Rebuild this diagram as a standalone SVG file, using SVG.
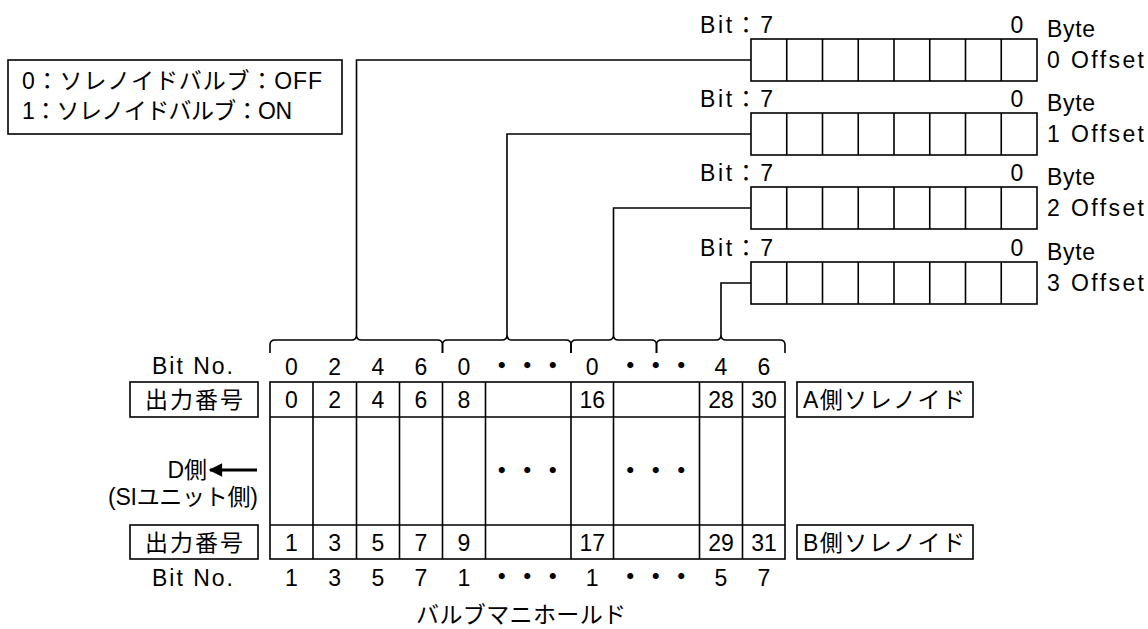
<svg xmlns="http://www.w3.org/2000/svg" width="1148" height="629" viewBox="0 0 1148 629">
<defs>
<style>
.ln{stroke:#000;stroke-width:1.6;fill:none}
.t{font-family:"Liberation Sans Narrow","Liberation Sans","Noto Sans CJK JP",sans-serif;font-size:23px;fill:#000}
.j{font-family:"Noto Sans CJK JP",sans-serif;font-size:23px;fill:#000}
.m{text-anchor:middle}
.e{text-anchor:end}
.d{font-family:"Noto Sans CJK JP",sans-serif;font-size:24px;font-weight:bold;text-anchor:middle;letter-spacing:1.5px}
</style>
<marker id="ah" viewBox="0 0 10 10" refX="9" refY="5" markerWidth="5" markerHeight="4.5" orient="auto" markerUnits="strokeWidth">
<path d="M0,0 L10,5 L0,10 Z" fill="#000"/>
</marker>
</defs>
<rect width="1148" height="629" fill="#fff"/>

<g id="legend">
<rect class="ln" x="8" y="60" width="334" height="74"/>
<text class="t" x="22" y="89" textLength="300" lengthAdjust="spacing">0：ソレノイドバルブ：OFF</text>
<text class="t" x="22" y="119" textLength="270" lengthAdjust="spacing">1：ソレノイドバルブ：ON</text>
</g>

<g id="byte0">
<text class="t" x="700" y="33" textLength="73" lengthAdjust="spacing">Bit：7</text>
<text class="t m" x="1017" y="33">0</text>
<text class="t" x="1047" y="37" textLength="48" lengthAdjust="spacing">Byte</text>
<text class="t" x="1047" y="68" textLength="97" lengthAdjust="spacing">0 Offset</text>
<rect class="ln" x="751" y="39" width="286" height="42"/>
<path class="ln" d="M786.75,39V81M822.5,39V81M858.25,39V81M894,39V81M929.75,39V81M965.5,39V81M1001.25,39V81"/>
</g>
<g id="byte1">
<text class="t" x="700" y="107" textLength="73" lengthAdjust="spacing">Bit：7</text>
<text class="t m" x="1017" y="107">0</text>
<text class="t" x="1047" y="111" textLength="48" lengthAdjust="spacing">Byte</text>
<text class="t" x="1047" y="142" textLength="97" lengthAdjust="spacing">1 Offset</text>
<rect class="ln" x="751" y="113" width="286" height="42"/>
<path class="ln" d="M786.75,113V155M822.5,113V155M858.25,113V155M894,113V155M929.75,113V155M965.5,113V155M1001.25,113V155"/>
</g>
<g id="byte2">
<text class="t" x="700" y="181" textLength="73" lengthAdjust="spacing">Bit：7</text>
<text class="t m" x="1017" y="181">0</text>
<text class="t" x="1047" y="185" textLength="48" lengthAdjust="spacing">Byte</text>
<text class="t" x="1047" y="216" textLength="97" lengthAdjust="spacing">2 Offset</text>
<rect class="ln" x="751" y="187" width="286" height="42"/>
<path class="ln" d="M786.75,187V229M822.5,187V229M858.25,187V229M894,187V229M929.75,187V229M965.5,187V229M1001.25,187V229"/>
</g>
<g id="byte3">
<text class="t" x="700" y="256" textLength="73" lengthAdjust="spacing">Bit：7</text>
<text class="t m" x="1017" y="256">0</text>
<text class="t" x="1047" y="260" textLength="48" lengthAdjust="spacing">Byte</text>
<text class="t" x="1047" y="291" textLength="97" lengthAdjust="spacing">3 Offset</text>
<rect class="ln" x="751" y="262" width="286" height="42"/>
<path class="ln" d="M786.75,262V304M822.5,262V304M858.25,262V304M894,262V304M929.75,262V304M965.5,262V304M1001.25,262V304"/>
</g>

<g id="connectors">
<path class="ln" d="M751,60H356.5V335"/>
<path class="ln" d="M751,134H507V335"/>
<path class="ln" d="M751,208H613.5V335"/>
<path class="ln" d="M751,283H721V335"/>
<path class="ln" d="M270,353V345Q270,340 275,340H351.5Q356.5,340 356.5,335Q356.5,340 361.5,340H437.5Q442.5,340 442.5,345V353"/>
<path class="ln" d="M442.5,353V345Q442.5,340 447.5,340H502Q507,340 507,335Q507,340 512,340H566Q571,340 571,345V353"/>
<path class="ln" d="M571,353V345Q571,340 576,340H608.5Q613.5,340 613.5,335Q613.5,340 618.5,340H651.5Q656.5,340 656.5,345V353"/>
<path class="ln" d="M656.5,353V345Q656.5,340 661.5,340H716Q721,340 721,335Q721,340 726,340H780Q785,340 785,345V353"/>
<path d="M257,470H210" stroke="#000" stroke-width="3" fill="none" marker-end="url(#ah)"/>
</g>

<g id="bitno-top">
<text class="t" x="152" y="374" textLength="81" lengthAdjust="spacing">Bit No.</text>
<text class="t m" x="291.5" y="375">0</text>
<text class="t m" x="334.75" y="375">2</text>
<text class="t m" x="378" y="375">4</text>
<text class="t m" x="421" y="375">6</text>
<text class="t m" x="464" y="375">0</text>
<text class="d" x="528" y="374">・・・</text>
<text class="t m" x="592.25" y="375">0</text>
<text class="d" x="656.5" y="374">・・・</text>
<text class="t m" x="721" y="375">4</text>
<text class="t m" x="764" y="375">6</text>
</g>

<g id="label-a-left">
<rect class="ln" x="130" y="382" width="128" height="35"/>
<text class="j m" x="194" y="408" textLength="98" lengthAdjust="spacing">出力番号</text>
</g>
<g id="label-b-left">
<rect class="ln" x="130" y="525" width="128" height="34"/>
<text class="j m" x="194" y="551" textLength="98" lengthAdjust="spacing">出力番号</text>
</g>

<g id="manifold">
<rect class="ln" x="270" y="382" width="515" height="177"/>
<path class="ln" d="M270,417H785M270,525H785"/>
<path class="ln" d="M313,382V559M356.5,382V559M399.5,382V559M442.5,382V559M485.5,382V559M571,382V559M613.5,382V559M699.5,382V559M742.5,382V559"/>
<text class="t m" x="291.5" y="408">0</text>
<text class="t m" x="334.75" y="408">2</text>
<text class="t m" x="378" y="408">4</text>
<text class="t m" x="421" y="408">6</text>
<text class="t m" x="464" y="408">8</text>
<text class="t m" x="592.25" y="408">16</text>
<text class="t m" x="721" y="408">28</text>
<text class="t m" x="764" y="408">30</text>
<text class="d" x="528" y="479">・・・</text>
<text class="d" x="656.5" y="479">・・・</text>
<text class="t m" x="291.5" y="551">1</text>
<text class="t m" x="334.75" y="551">3</text>
<text class="t m" x="378" y="551">5</text>
<text class="t m" x="421" y="551">7</text>
<text class="t m" x="464" y="551">9</text>
<text class="t m" x="592.25" y="551">17</text>
<text class="t m" x="721" y="551">29</text>
<text class="t m" x="764" y="551">31</text>
<text class="j m" x="521" y="623" textLength="210" lengthAdjust="spacing">バルブマニホールド</text>
</g>

<g id="label-a-right">
<rect class="ln" x="797" y="382" width="176" height="35"/>
<text class="t" x="803" y="408" textLength="162" lengthAdjust="spacing">A側ソレノイド</text>
</g>
<g id="label-b-right">
<rect class="ln" x="797" y="525" width="176" height="34"/>
<text class="t" x="803" y="551" textLength="162" lengthAdjust="spacing">B側ソレノイド</text>
</g>

<g id="side-label">
<text class="t e" x="207" y="478">D側</text>
<text class="t e" x="258" y="505" textLength="150" lengthAdjust="spacing">(SIユニット側)</text>
</g>

<g id="bitno-bottom">
<text class="t" x="152" y="586" textLength="81" lengthAdjust="spacing">Bit No.</text>
<text class="t m" x="291.5" y="586">1</text>
<text class="t m" x="334.75" y="586">3</text>
<text class="t m" x="378" y="586">5</text>
<text class="t m" x="421" y="586">7</text>
<text class="t m" x="464" y="586">1</text>
<text class="d" x="528" y="585">・・・</text>
<text class="t m" x="592.25" y="586">1</text>
<text class="d" x="656.5" y="585">・・・</text>
<text class="t m" x="721" y="586">5</text>
<text class="t m" x="764" y="586">7</text>
</g>
</svg>
